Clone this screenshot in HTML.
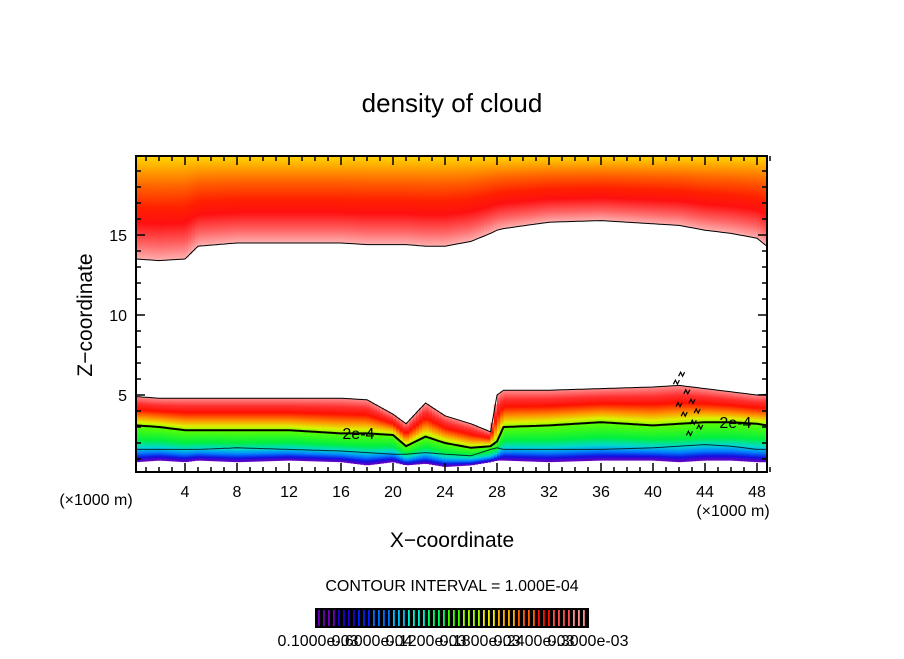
<!DOCTYPE html>
<html><head><meta charset="utf-8"><style>
body{margin:0;background:#fff;width:904px;height:654px;overflow:hidden}
svg text{font-family:"Liberation Sans",sans-serif;fill:#000}
</style></head><body>
<svg id="c" width="904" height="654" xmlns="http://www.w3.org/2000/svg">
<defs>
<linearGradient id="gUp" x1="0" y1="0" x2="0" y2="1">
<stop offset="0" stop-color="#ffd800"/><stop offset="0.12" stop-color="#ffa800"/><stop offset="0.3" stop-color="#ff6000"/><stop offset="0.5" stop-color="#ff2000"/><stop offset="0.65" stop-color="#ff1010"/><stop offset="0.85" stop-color="#ff6464"/><stop offset="1" stop-color="#ffb0b0"/>
</linearGradient>
<linearGradient id="gLowA" x1="0" y1="0" x2="0" y2="1">
<stop offset="0" stop-color="#ff9090"/><stop offset="0.25" stop-color="#ff3030"/><stop offset="0.45" stop-color="#ff1000"/><stop offset="0.7" stop-color="#ff9000"/><stop offset="0.88" stop-color="#e0f000"/><stop offset="1" stop-color="#80ff00"/>
</linearGradient>
<linearGradient id="gLowB" x1="0" y1="0" x2="0" y2="1">
<stop offset="0" stop-color="#60ff00"/><stop offset="0.4" stop-color="#00f040"/><stop offset="0.6" stop-color="#00d8d0"/><stop offset="0.75" stop-color="#0080ff"/><stop offset="0.88" stop-color="#1010e0"/><stop offset="1" stop-color="#7000c0"/>
</linearGradient>
</defs>
<g id="fills"></g>
<g id="lines"></g>
<g id="axes"></g>
<text x="452" y="112" font-size="26" text-anchor="middle">density of cloud</text>
<text x="452" y="547" font-size="21" text-anchor="middle">X−coordinate</text>
<text transform="translate(92,315) rotate(-90)" font-size="21" text-anchor="middle">Z−coordinate</text>
<text x="96" y="505" font-size="16" text-anchor="middle">(×1000 m)</text>
<text x="733" y="516" font-size="16" text-anchor="middle">(×1000 m)</text>
<text x="452" y="591" font-size="16" text-anchor="middle">CONTOUR INTERVAL = 1.000E-04</text>
<rect x="315" y="608" width="274" height="20" fill="#000"/>
<g id="cbar"></g>
<g id="cblab"></g>
</svg>
<script>
// data (x in 1000 m, z in 1000 m)
const xs        = [0.25,2,4,5,8,12,16,18,20,21,22.5,24,26,27.5,28,28.5,32,36,40,42,44,46,48,49.5];
const lowerTop  = [4.9,4.8,4.8,4.8,4.8,4.8,4.8,4.7,3.8,3.2,4.5,3.7,3.2,2.7,5.0,5.3,5.3,5.4,5.5,5.6,5.4,5.2,5.0,5.1];
const line2e4   = [3.1,3.0,2.8,2.8,2.8,2.8,2.6,2.6,2.5,1.8,2.4,2.0,1.7,1.8,2.1,3.0,3.1,3.3,3.1,3.2,3.3,3.3,3.2,3.0];
const lineLow   = [1.6,1.6,1.6,1.6,1.7,1.6,1.5,1.4,1.3,1.3,1.4,1.3,1.2,1.6,1.7,1.6,1.6,1.6,1.7,1.8,1.9,1.8,1.6,1.6];
const lowerBot  = [0.8,0.9,0.8,0.9,0.8,0.9,0.8,0.6,0.8,0.6,0.7,0.5,0.6,0.8,0.9,0.9,0.8,0.9,0.9,0.8,0.9,0.9,0.8,0.8];
const upperBot  = [13.5,13.4,13.5,14.3,14.5,14.5,14.5,14.4,14.4,14.4,14.3,14.3,14.6,15.1,15.3,15.4,15.8,15.9,15.7,15.6,15.3,15.1,14.8,13.8];
const noiseX = [41.8,42.2,42.6,43.0,43.4,42.4,43.1,42.0,43.6,42.8];
const noiseZ = [5.8,6.3,5.2,4.6,4.0,3.8,3.3,4.4,3.0,2.6];
const xTicks = [4,8,12,16,20,24,28,32,36,40,44,48];
const yTicks = [5,10,15];
const cbLabels = ["0.1000e-03","0.6000e-04","0.1200e-03","0.1800e-03","0.2400e-03","0.3000e-03"];

const X = v => 133 + 13*v, Y = v => 475 - 16*v;
const L=136,R=767,T=156,B=472;
const NS="http://www.w3.org/2000/svg";
function mk(tag,attrs,parent){const e=document.createElementNS(NS,tag);for(const k in attrs)e.setAttribute(k,attrs[k]);parent.appendChild(e);return e;}
function interp(arr,x){
  if(x<=xs[0])return arr[0];
  for(let i=1;i<xs.length;i++){if(x<=xs[i]){const t=(x-xs[i-1])/(xs[i]-xs[i-1]);return arr[i-1]+t*(arr[i]-arr[i-1]);}}
  return arr[arr.length-1];
}
const fills=document.getElementById('fills');
const step=0.25;
for(let x=xs[0];x<49.5;x+=step){
  const x0=Math.max(L,X(x)), x1=Math.min(R,X(x+step)+0.6);
  const xm=x+step/2;
  const ub=interp(upperBot,xm), lt=interp(lowerTop,xm), l2=interp(line2e4,xm), lb=interp(lowerBot,xm);
  const r1=mk('rect',{x:x0,y:T,width:x1-x0,height:Y(ub)-T,fill:'url(#gUp)'},fills);
  
  
  const r2=mk('rect',{x:x0,y:Y(lt),width:x1-x0,height:Y(l2)-Y(lt),fill:'url(#gLowA)'},fills);
  
  
  const r3=mk('rect',{x:x0,y:Y(l2),width:x1-x0,height:Y(lb)-Y(l2),fill:'url(#gLowB)'},fills);
  
  
}
const lines=document.getElementById('lines');
function pathOf(arr){let d='';for(let x=xs[0];x<=49.6;x+=step){const xx=Math.min(x,49.5);d+=(d?'L':'M')+Math.min(R,X(xx)).toFixed(1)+','+Y(interp(arr,xx)).toFixed(1);}return d;}
const p1=mk('path',{d:pathOf(line2e4),stroke:'#000','stroke-width':2,fill:'none'},lines);


const p2=mk('path',{d:pathOf(upperBot),stroke:'#000','stroke-width':1,fill:'none'},lines);


const p3=mk('path',{d:pathOf(lowerTop),stroke:'#000','stroke-width':1,fill:'none'},lines);


const p4=mk('path',{d:pathOf(lineLow),stroke:'#003030','stroke-width':1,fill:'none'},lines);


// noisy contour squiggles
noiseX.forEach((xv,i)=>{
  const px=X(xv), py=Y(noiseZ[i]);
  const n=mk('path',{d:`M${px-3},${py+2}l2,-4l2,4l2,-4`,stroke:'#000','stroke-width':1.2,fill:'none'},lines);
  
  
});
// contour labels
[[15.8,"2e-4"],[44.8,"2e-4"]].forEach(([xv,t])=>{
  const yv=interp(line2e4,xv);
  const tx=mk('text',{x:X(xv)+4,y:Y(yv)+6,'font-size':16},lines);
  tx.textContent=t;
  
  
});
// axes
const ax=document.getElementById('axes');
const fr=mk('rect',{x:L,y:T,width:R-L,height:B-T,fill:'none',stroke:'#000','stroke-width':2},ax);


for(let v=1;v<=49;v++){
  const len=v%4===0?9:5, px=X(v);
  mk('line',{x1:px,y1:B,x2:px,y2:B-len,stroke:'#000','stroke-width':1.5},ax);
  mk('line',{x1:px,y1:T,x2:px,y2:T+len,stroke:'#000','stroke-width':1.5},ax);
}
for(let v=1;v<=19;v++){
  const len=v%5===0?9:5, py=Y(v);
  mk('line',{x1:L,y1:py,x2:L+len,y2:py,stroke:'#000','stroke-width':1.5},ax);
  mk('line',{x1:R,y1:py,x2:R-len,y2:py,stroke:'#000','stroke-width':1.5},ax);
}
xTicks.forEach(v=>{const t=mk('text',{x:X(v),y:497,'font-size':16,'text-anchor':'middle'},ax);t.textContent=v;
  
  });
yTicks.forEach(v=>{const t=mk('text',{x:127,y:Y(v)+6,'font-size':16,'text-anchor':'end'},ax);t.textContent=v;
  
  });
// colorbar stripes
const cb=document.getElementById('cbar');
const cols=['#7000c0','#2000d0','#0020ff','#0070ff','#00c0ff','#00f0d0','#00ff60','#40ff00','#a0ff00','#f0f000','#ffb000','#ff6000','#ff1000','#ff5050','#ff9090'];
for(let i=0;i<54;i++){
  const c=cols[Math.floor(i/54*cols.length)];
  const s=mk('rect',{x:318+i*5,y:610,width:1.8,height:16,fill:c},cb);
  
  
}
const cbl=document.getElementById('cblab');
cbLabels.forEach((t,i)=>{const e=mk('text',{x:318+i*54,y:646,'font-size':16,'text-anchor':'middle'},cbl);e.textContent=t;
  
  });
</script>
</body></html>
